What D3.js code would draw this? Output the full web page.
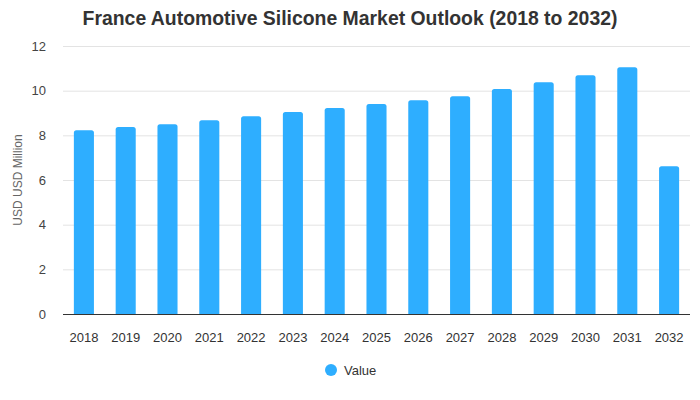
<!DOCTYPE html>
<html><head><meta charset="utf-8">
<script src="https://cdn.jsdelivr.net/npm/d3@7"></script>
<style>body{margin:0;background:#fff;font-family:"Liberation Sans",Arial,sans-serif;}</style>
</head><body><svg id="c" width="700" height="400"></svg>
<script>
const categories = ["2018","2019","2020","2021","2022","2023","2024","2025","2026","2027","2028","2029","2030","2031","2032"];
const values = [8.23,8.37,8.5,8.68,8.86,9.04,9.22,9.4,9.57,9.75,10.07,10.38,10.69,11.05,6.62];
const yTicks = [0,2,4,6,8,10,12];
const title = "France Automotive Silicone Market Outlook (2018 to 2032)";
const yLabel = "USD USD Million";
const seriesName = "Value";

const svg = d3.select("#c");
const m = {l:63, r:690, t:46, b:314};
const x = d3.scaleBand().domain(categories).range([m.l, m.r]).paddingInner(0.52).paddingOuter(0.26);
const y = d3.scaleLinear().domain([0,12]).range([m.b, m.t]);

svg.append("text").attr("x",350).attr("y",25).attr("text-anchor","middle")
  .attr("font-size",19.4).attr("font-weight","bold").attr("fill","#333").text(title);

// grid
svg.append("g").selectAll("line").data(yTicks.filter(d=>d>0)).join("line")
  .attr("x1",m.l).attr("x2",m.r).attr("y1",d=>y(d)+0.5).attr("y2",d=>y(d)+0.5)
  .attr("stroke","#e3e3e3").attr("stroke-width",1);

// y axis labels
svg.append("g").selectAll("text").data(yTicks).join("text")
  .attr("x",46).attr("y",d=>y(d)).attr("dy","0.35em").attr("text-anchor","end")
  .attr("font-size",13).attr("fill","#444").text(d=>d);

svg.append("text").attr("transform",`translate(22,${(m.t+m.b)/2}) rotate(-90)`)
  .attr("text-anchor","middle").attr("font-size",12).attr("fill","#666").text(yLabel);

// bars with rounded top
const r = 2.5;
svg.append("g").selectAll("path").data(categories).join("path")
  .attr("fill","#2eaeff")
  .attr("d",(c,i)=>{
    const x0 = x(c), w = x.bandwidth(), y0 = y(values[i]), yb = y(0);
    return `M${x0},${yb}V${y0+r}Q${x0},${y0} ${x0+r},${y0}H${x0+w-r}Q${x0+w},${y0} ${x0+w},${y0+r}V${yb}Z`;
  });

// baseline
svg.append("line").attr("x1",m.l).attr("x2",m.r).attr("y1",y(0)+0.5).attr("y2",y(0)+0.5)
  .attr("stroke","#333").attr("stroke-width",1);

// x labels
svg.append("g").selectAll("text").data(categories).join("text")
  .attr("x",c=>x(c)+x.bandwidth()/2).attr("y",342).attr("text-anchor","middle")
  .attr("font-size",13).attr("fill","#333").text(c=>c);

// legend
svg.append("circle").attr("cx",331).attr("cy",370).attr("r",6).attr("fill","#2eaeff");
svg.append("text").attr("x",344).attr("y",370).attr("dy","0.35em").attr("font-size",13).attr("fill","#333").text(seriesName);
</script></body></html>
